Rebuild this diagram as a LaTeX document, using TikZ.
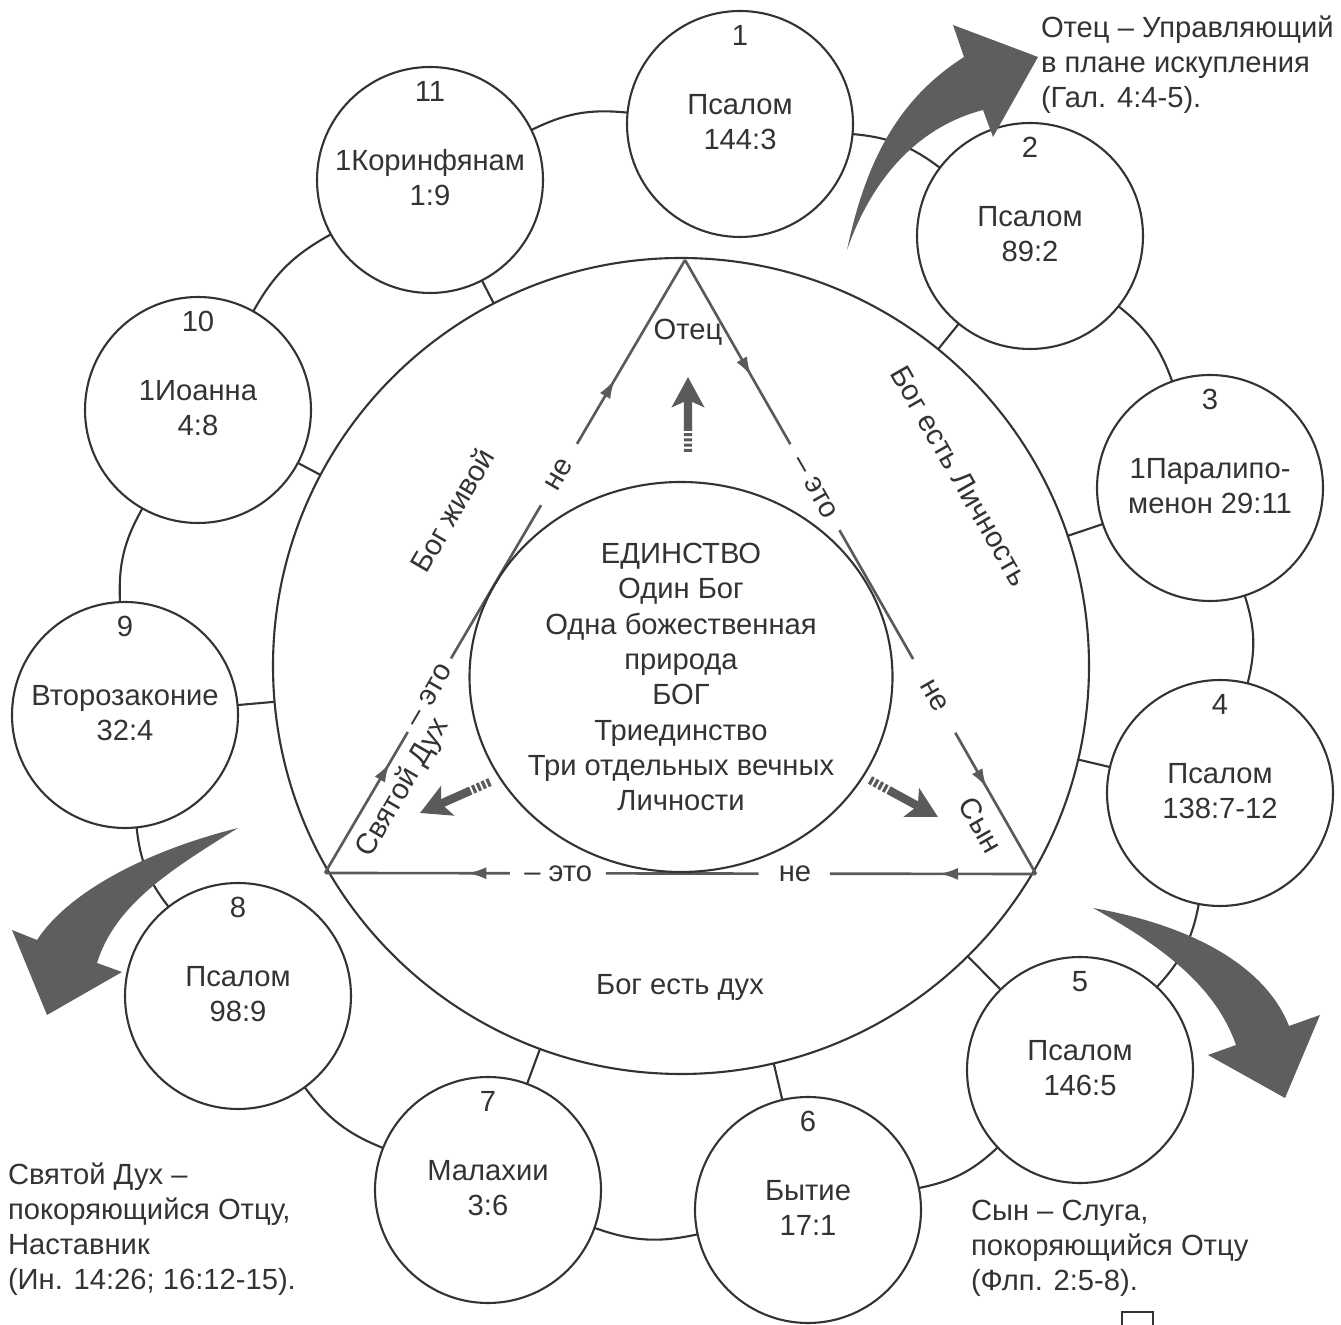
\documentclass[tikz,border=0pt]{standalone}
\usepackage{fontspec}
\setmainfont{Liberation Sans}
\usetikzlibrary{arrows.meta,calc,shapes.geometric,decorations.markings}
\definecolor{ink}{HTML}{333333}
\definecolor{triink}{HTML}{5A5A5A}
\definecolor{bigfill}{HTML}{5E5E5E}
\begin{document}
\begin{tikzpicture}[x=0.1mm,y=-0.1mm,inner sep=0pt,outer sep=0pt,line width=0.6pt,
font=\fontsize{8.3}{10}\selectfont,text=ink,
refcirc/.style={draw=ink,circle,fill=white,minimum size=22.6mm},
numtext/.style={anchor=base},
reftext/.style={align=center},
ringline/.style={draw=ink},
triline/.style={draw=triink,line width=0.75pt},
tiparrow/.style={postaction={decorate},decoration={markings,mark=at position #1 with {\arrow{Latex[length=1.9mm,width=1.2mm]}}}},
bigarrow/.style={draw=triink,line width=2.4pt,-{Stealth[length=3mm,width=3.2mm,inset=0.7mm]}},
bigtail/.style={draw=triink,line width=2.4pt,dash pattern=on 0.9pt off 0.6pt},
note/.style={anchor=west,align=left}]
\useasboundingbox (0,0) rectangle (1341,1325);
% outer ring of references
\draw (681,666) node[draw=ink,circle,minimum size=81.6mm] (god) {};
\draw (740,124) node[refcirc] (c1) {} (740,46) node[numtext] {1} (740,122) node[reftext] {Псалом\\144:3};
\draw (1030,236) node[refcirc] (c2) {} (1030,158) node[numtext] {2} (1030,234) node[reftext] {Псалом\\89:2};
\draw (1210,488) node[refcirc] (c3) {} (1210,410) node[numtext] {3} (1210,486) node[reftext] {1Паралипо-\\менон 29:11};
\draw (1220,793) node[refcirc] (c4) {} (1220,715) node[numtext] {4} (1220,791) node[reftext] {Псалом\\138:7-12};
\draw (1080,1070) node[refcirc] (c5) {} (1080,992) node[numtext] {5} (1080,1068) node[reftext] {Псалом\\146:5};
\draw (808,1210) node[refcirc] (c6) {} (808,1132) node[numtext] {6} (808,1208) node[reftext] {Бытие\\17:1};
\draw (488,1190) node[refcirc] (c7) {} (488,1112) node[numtext] {7} (488,1188) node[reftext] {Малахии\\3:6};
\draw (238,996) node[refcirc] (c8) {} (238,918) node[numtext] {8} (238,994) node[reftext] {Псалом\\98:9};
\draw (125,715) node[refcirc] (c9) {} (125,637) node[numtext] {9} (125,713) node[reftext] {Второзаконие\\32:4};
\draw (198,410) node[refcirc] (c10) {} (198,332) node[numtext] {10} (198,408) node[reftext] {1Иоанна\\4:8};
\draw (430,180) node[refcirc] (c11) {} (430,102) node[numtext] {11} (430,178) node[reftext] {1Коринфянам\\1:9};
\draw[ringline] (c1) to[bend left=16] (c2) (c2) to[bend left=16] (c3) (c3) to[bend left=16] (c4)
  (c4) to[bend left=16] (c5) (c5) to[bend left=16] (c6) (c6) to[bend left=16] (c7)
  (c7) to[bend left=16] (c8) (c8) to[bend left=16] (c9) (c9) to[bend left=16] (c10)
  (c10) to[bend left=16] (c11) (c11) to[bend left=16] (c1);
\draw[ringline] (god) -- (c2) (god) -- (c3) (god) -- (c4) (god) -- (c5) (god) -- (c6)
  (god) -- (c7) (god) -- (c9) (god) -- (c10) (god) -- (c11);
% triangle of persons
\coordinate (father) at (685,260);
\coordinate (son) at (1036,874);
\coordinate (spirit) at (325,873);
\draw[triline,tiparrow=0.78] (spirit) -- ($(spirit)!0.23!(father)$);
\draw[triline] ($(spirit)!0.35!(father)$) -- ($(spirit)!0.60!(father)$);
\draw[triline,tiparrow=0.35] ($(spirit)!0.70!(father)$) -- (father);
\draw[triline,tiparrow=0.63] (father) -- ($(father)!0.30!(son)$);
\draw[triline] ($(father)!0.44!(son)$) -- ($(father)!0.65!(son)$);
\draw[triline,tiparrow=0.39] ($(father)!0.77!(son)$) -- (son);
\draw[triline,tiparrow=0.47] (son) -- ($(son)!0.29!(spirit)$);
\draw[triline] ($(son)!0.39!(spirit)$) -- ($(son)!0.605!(spirit)$);
\draw[triline,tiparrow=0.23] ($(son)!0.74!(spirit)$) -- (spirit);
\node[rotate=59.6] at ($(spirit)!0.29!(father)$) {– это};
\node[rotate=59.6] at ($(spirit)!0.65!(father)$) {не};
\node[rotate=-60.25] at ($(father)!0.37!(son)$) {– это};
\node[rotate=-60.25] at ($(father)!0.71!(son)$) {не};
\node at ($(son)!0.339!(spirit)$) {не};
\node at ($(son)!0.672!(spirit)$) {– это};
\node (otec) at (688,332) {Отец};
\node[rotate=-60.25] (syn) at (981,825) {Сын};
\node[rotate=59.6] (duh) at (403,788) {Святой Дух};
\node[rotate=59.6] at (452,510) {Бог живой};
\node[rotate=-60.25] at (960,476) {Бог есть Личность};
\node at (680,987) {Бог есть дух};
% unity in the middle
\draw (681,677) node[draw=ink,ellipse,minimum width=42.3mm,minimum height=39mm] (unity) {};
\node[align=center,font=\fontsize{8.3}{10.05}\selectfont] at (681,677) {ЕДИНСТВО\\Один Бог\\Одна божественная\\природа\\БОГ\\Триединство\\Три отдельных вечных\\Личности};
\coordinate (upt) at (688,452); \coordinate (uph) at (688,377);
\coordinate (lft) at (490,782); \coordinate (lfh) at (420,813);
\coordinate (rgt) at (870,780); \coordinate (rgh) at (938,817);
\draw[bigtail] (upt) -- ($(upt)!0.32!(uph)$);
\draw[bigarrow] ($(upt)!0.3!(uph)$) -- (uph);
\draw[bigtail] (lft) -- ($(lft)!0.32!(lfh)$);
\draw[bigarrow] ($(lft)!0.3!(lfh)$) -- (lfh);
\draw[bigtail] (rgt) -- ($(rgt)!0.32!(rgh)$);
\draw[bigarrow] ($(rgt)!0.3!(rgh)$) -- (rgh);
% big curved arrows
\fill[bigfill] (847,250) .. controls (868,150) and (905,95) .. (964,57) -- (953,25) -- (1038,57)
  -- (993,137) -- (983,110) .. controls (925,125) and (875,170) .. (847,250) -- cycle;
\fill[bigfill] (1093,908) .. controls (1190,925) and (1265,965) .. (1289,1026) -- (1320,1015) -- (1285,1098)
  -- (1208,1055) -- (1236,1045) .. controls (1215,985) and (1160,945) .. (1093,908) -- cycle;
\fill[bigfill] (238,828) .. controls (150,850) and (70,890) .. (37,940) -- (12,930) -- (47,1015)
  -- (122,972) -- (97,963) .. controls (115,905) and (170,870) .. (238,828) -- cycle;
% notes
\node[note] at (1041,65) {Отец – Управляющий\\в плане искупления\\(Гал. 4:4-5).};
\node[note] at (8,1229) {Святой Дух –\\покоряющийся Отцу,\\Наставник\\(Ин. 14:26; 16:12-15).};
\node[note] at (971,1248) {Сын – Слуга,\\покоряющийся Отцу\\(Флп. 2:5-8).};
\draw[ink] (1122,1330) |- (1153,1312) -- (1153,1330);
\end{tikzpicture}
\end{document}
